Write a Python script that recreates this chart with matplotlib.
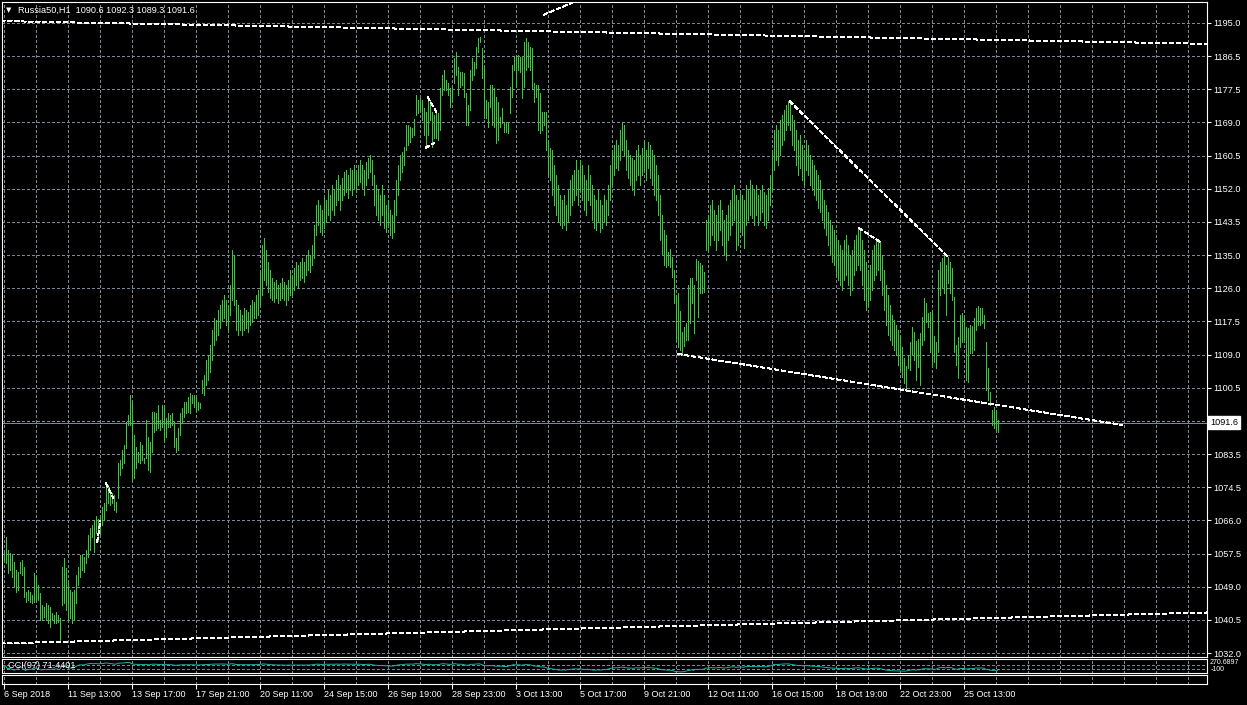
import numpy as np
import pandas as pd
import matplotlib
matplotlib.use("Agg")
import matplotlib.pyplot as plt
from matplotlib.transforms import blended_transform_factory

# ---------------- data ----------------
symbol = "Russia50,H1"
last_ohlc = [1090.6, 1092.3, 1089.3, 1091.6]
last_price = 1091.6
cci_period = 97
cci_last = 71.4401

highs = [
    # 0-9
    1057.9, 1062.0, 1058.7, 1057.9, 1057.4, 1055.5, 1053.5, 1053.0, 1055.5, 1056.1,
    # 10-19
    1054.3, 1047.8, 1048.3, 1047.8, 1047.0, 1052.7, 1051.7, 1049.6, 1047.5, 1044.4,
    # 20-29
    1043.9, 1044.9, 1044.4, 1043.9, 1042.4, 1041.8, 1042.6, 1041.8, 1041.1, 1054.3,
    # 30-39
    1056.6, 1054.0, 1050.1, 1048.3, 1047.8, 1048.3, 1052.2, 1054.3, 1057.4, 1057.4,
    # 40-49
    1056.8, 1058.7, 1062.5, 1064.3, 1065.1, 1066.4, 1067.5, 1066.8, 1067.7, 1069.8,
    # 50-59
    1070.8, 1076.0, 1075.5, 1074.2, 1073.4, 1072.9, 1071.1, 1081.2, 1081.9, 1084.5,
    # 60-69
    1085.8, 1091.8, 1093.6, 1098.8, 1096.7, 1088.4, 1085.3, 1084.0, 1086.6, 1085.8,
    # 70-79
    1082.5, 1092.3, 1087.9, 1086.6, 1094.4, 1094.4, 1094.1, 1096.2, 1092.3, 1096.2,
    # 80-89
    1096.2, 1092.8, 1094.1, 1093.6, 1094.1, 1091.8, 1087.6, 1090.2, 1094.1, 1095.4,
    # 90-99
    1096.9, 1096.9, 1098.2, 1099.3, 1098.8, 1098.8, 1098.0, 1096.9, 1096.7, 1102.6,
    # 100-109
    1103.9, 1107.8, 1109.1, 1111.7, 1115.6, 1118.7, 1118.1, 1120.7, 1122.0, 1123.3,
    # 110-119
    1124.6, 1123.3, 1122.0, 1127.2, 1136.3, 1135.0, 1123.3, 1122.0, 1120.7, 1119.4,
    # 120-129
    1121.3, 1120.7, 1120.2, 1122.0, 1123.3, 1122.8, 1124.6, 1125.9, 1131.1, 1137.6,
    # 130-139
    1139.4, 1136.3, 1133.2, 1131.1, 1129.0, 1128.0, 1128.5, 1127.2, 1127.7, 1129.0,
    # 140-149
    1128.0, 1127.2, 1128.5, 1131.1, 1129.8, 1131.6, 1133.2, 1132.4, 1133.2, 1134.2,
    # 150-159
    1133.2, 1135.0, 1136.3, 1135.0, 1137.6, 1142.7, 1147.9, 1149.2, 1147.9, 1146.6,
    # 160-169
    1149.7, 1149.2, 1151.8, 1150.5, 1153.1, 1151.8, 1154.4, 1155.7, 1153.1, 1155.0,
    # 170-179
    1156.5, 1157.0, 1155.7, 1157.5, 1157.0, 1158.3, 1156.5, 1158.3, 1159.5, 1158.3,
    # 180-189
    1157.0, 1159.0, 1160.1, 1160.8, 1159.5, 1155.7, 1153.1, 1151.8, 1150.5, 1153.1,
    # 190-199
    1150.5, 1147.9, 1149.2, 1146.6, 1145.3, 1149.2, 1154.4, 1158.3, 1160.8, 1161.6,
    # 200-209
    1162.9, 1168.6, 1168.6, 1168.1, 1167.8, 1170.2, 1176.4, 1175.1, 1175.6, 1175.1,
    # 210-219
    1173.0, 1172.0, 1175.6, 1175.1, 1172.0, 1171.2, 1172.5, 1171.7, 1178.2, 1181.5,
    # 220-229
    1182.8, 1180.3, 1179.5, 1178.2, 1178.2, 1185.9, 1187.5, 1183.6, 1182.3, 1182.3,
    # 230-239
    1182.1, 1177.0, 1173.8, 1182.8, 1185.9, 1184.9, 1188.8, 1191.1, 1191.4, 1188.5,
    # 240-249
    1183.6, 1175.1, 1174.6, 1179.0, 1179.0, 1178.2, 1175.9, 1174.6, 1170.7, 1173.0,
    # 250-259
    1169.4, 1169.4, 1169.4, 1178.5, 1184.1, 1186.2, 1186.7, 1186.7, 1186.2, 1186.2,
    # 260-269
    1190.1, 1191.1, 1190.1, 1188.8, 1188.5, 1179.5, 1179.0, 1179.0, 1177.0, 1172.0,
    # 270-279
    1172.0, 1172.0, 1164.7, 1162.7, 1162.1, 1158.3, 1155.7, 1153.1, 1150.5, 1149.2,
    # 280-289
    1150.5, 1147.9, 1151.8, 1154.4, 1155.7, 1157.0, 1159.5, 1157.0, 1159.5, 1158.3,
    # 290-299
    1155.7, 1154.4, 1158.3, 1155.7, 1153.1, 1150.5, 1149.2, 1151.8, 1149.2, 1147.9,
    # 300-309
    1150.5, 1149.2, 1153.1, 1158.3, 1162.1, 1163.5, 1164.7, 1163.5, 1167.3, 1169.1,
    # 310-319
    1168.6, 1164.7, 1162.1, 1160.8, 1160.1, 1159.5, 1162.1, 1163.5, 1160.8, 1162.7,
    # 320-329
    1164.7, 1162.1, 1164.2, 1163.5, 1162.1, 1160.8, 1158.3, 1155.7, 1150.5, 1145.3,
    # 330-339
    1141.4, 1140.2, 1135.8, 1136.5, 1134.4, 1131.1, 1124.6, 1125.1, 1120.5, 1115.1,
    # 340-349
    1116.3, 1117.4, 1127.2, 1129.0, 1129.0, 1127.2, 1133.9, 1133.4, 1132.9, 1132.4,
    # 350-359
    1130.6, 1144.0, 1145.3, 1147.9, 1149.2, 1146.6, 1145.3, 1147.9, 1149.2, 1146.6,
    # 360-369
    1144.0, 1145.3, 1147.9, 1149.2, 1151.8, 1153.1, 1150.5, 1149.2, 1151.8, 1150.5,
    # 370-379
    1149.2, 1153.1, 1151.8, 1154.4, 1153.1, 1151.8, 1153.1, 1150.5, 1151.8, 1153.1,
    # 380-389
    1151.3, 1150.5, 1152.3, 1155.7, 1162.1, 1167.3, 1168.6, 1167.3, 1169.9, 1171.2,
    # 390-399
    1172.5, 1173.8, 1174.8, 1174.6, 1171.2, 1169.9, 1167.3, 1164.7, 1166.0, 1163.5,
    # 400-409
    1162.1, 1164.7, 1163.5, 1160.8, 1159.5, 1158.3, 1157.0, 1155.7, 1154.4, 1151.8,
    # 410-419
    1149.2, 1147.9, 1146.1, 1144.0, 1142.7, 1141.4, 1139.4, 1138.9, 1137.6, 1136.3,
    # 420-429
    1138.9, 1140.2, 1137.6, 1135.0, 1136.3, 1138.9, 1140.2, 1141.9, 1141.4, 1138.9,
    # 430-439
    1136.3, 1133.2, 1131.1, 1132.4, 1136.3, 1137.6, 1139.4, 1138.9, 1138.3, 1135.0,
    # 440-449
    1131.1, 1127.2, 1124.6, 1122.0, 1119.4, 1118.1, 1116.9, 1115.6, 1114.3, 1111.2,
    # 450-459
    1108.3, 1106.3, 1108.8, 1112.5, 1116.3, 1115.1, 1112.7, 1113.2, 1114.8, 1118.9,
    # 460-469
    1123.8, 1122.6, 1120.0, 1120.2, 1120.7, 1114.0, 1112.5, 1131.1, 1133.2, 1134.2,
    # 470-479
    1135.0, 1132.4, 1134.4, 1133.2, 1131.6, 1124.1, 1111.7, 1113.8, 1119.4, 1120.0,
    # 480-489
    1118.7, 1116.3, 1116.1, 1116.9, 1116.6, 1118.7, 1121.3, 1121.8, 1121.3, 1121.3,
    # 490-497
    1119.4, 1112.5, 1105.7, 1099.5, 1094.9, 1095.7, 1094.9, 1092.3,
]

lows = [
    # 0-9
    1055.5, 1055.3, 1052.7, 1053.5, 1051.7, 1049.1, 1047.8, 1048.3, 1052.7, 1052.2,
    # 10-19
    1046.5, 1045.2, 1045.7, 1045.2, 1044.9, 1045.2, 1045.7, 1045.7, 1040.5, 1040.5,
    # 20-29
    1041.3, 1040.5, 1039.8, 1038.7, 1040.5, 1039.8, 1039.8, 1040.0, 1034.8, 1044.4,
    # 30-39
    1044.9, 1043.1, 1040.5, 1041.1, 1039.8, 1040.5, 1044.9, 1049.6, 1051.7, 1053.5,
    # 40-49
    1053.0, 1055.3, 1056.8, 1058.7, 1062.0, 1058.1, 1063.0, 1061.0, 1062.5, 1065.1,
    # 50-59
    1066.4, 1069.0, 1070.8, 1070.3, 1070.8, 1069.0, 1068.5, 1072.1, 1078.0, 1079.9,
    # 60-69
    1081.2, 1085.0, 1091.0, 1091.0, 1076.8, 1077.3, 1079.9, 1081.4, 1081.2, 1081.9,
    # 70-79
    1081.2, 1082.5, 1079.3, 1078.8, 1084.0, 1089.2, 1089.7, 1090.2, 1089.7, 1090.5,
    # 80-89
    1086.6, 1087.9, 1090.5, 1090.5, 1091.0, 1085.3, 1084.0, 1084.5, 1088.4, 1091.8,
    # 90-99
    1093.1, 1094.1, 1094.4, 1094.1, 1096.7, 1095.6, 1094.4, 1094.9, 1095.4, 1099.3,
    # 100-109
    1098.8, 1101.3, 1102.6, 1104.7, 1107.8, 1111.7, 1113.0, 1114.3, 1116.1, 1118.1,
    # 110-119
    1118.7, 1116.9, 1115.6, 1119.4, 1123.3, 1122.0, 1115.6, 1114.3, 1115.6, 1114.3,
    # 120-129
    1115.6, 1116.1, 1115.1, 1116.9, 1117.6, 1118.7, 1118.7, 1119.4, 1122.0, 1124.6,
    # 130-139
    1128.5, 1127.2, 1125.4, 1123.8, 1123.3, 1122.8, 1123.8, 1122.6, 1123.3, 1123.8,
    # 140-149
    1123.3, 1122.0, 1123.3, 1124.6, 1124.1, 1125.9, 1127.2, 1126.4, 1128.5, 1129.0,
    # 150-159
    1128.0, 1129.8, 1131.1, 1130.6, 1132.4, 1134.2, 1140.2, 1142.7, 1140.9, 1140.2,
    # 160-169
    1141.9, 1143.5, 1145.3, 1144.0, 1146.6, 1145.3, 1147.9, 1149.2, 1146.6, 1149.2,
    # 170-179
    1150.5, 1151.3, 1149.7, 1151.8, 1150.5, 1152.3, 1151.3, 1153.1, 1153.9, 1152.3,
    # 180-189
    1150.5, 1153.1, 1155.0, 1156.5, 1153.1, 1147.9, 1145.3, 1144.0, 1142.7, 1145.3,
    # 190-199
    1141.9, 1140.9, 1142.7, 1140.2, 1139.4, 1140.9, 1145.3, 1150.5, 1154.4, 1156.5,
    # 200-209
    1158.3, 1162.1, 1163.5, 1164.2, 1165.5, 1166.0, 1171.2, 1171.7, 1172.5, 1169.9,
    # 210-219
    1166.0, 1162.7, 1166.0, 1169.9, 1162.9, 1165.3, 1165.3, 1164.7, 1167.3, 1176.4,
    # 220-229
    1177.7, 1177.7, 1176.4, 1173.3, 1174.6, 1179.5, 1181.5, 1176.4, 1178.5, 1179.0,
    # 230-239
    1175.9, 1168.6, 1168.6, 1172.5, 1180.3, 1181.5, 1183.4, 1187.5, 1190.1, 1180.8,
    # 240-249
    1170.4, 1170.4, 1168.1, 1173.3, 1168.6, 1168.1, 1164.0, 1164.7, 1168.1, 1169.1,
    # 250-259
    1166.8, 1166.8, 1166.5, 1171.7, 1175.9, 1182.8, 1178.5, 1182.8, 1182.3, 1175.6,
    # 260-269
    1178.5, 1182.8, 1183.6, 1182.8, 1178.2, 1174.6, 1175.9, 1167.3, 1166.5, 1167.3,
    # 270-279
    1168.6, 1162.1, 1155.7, 1154.4, 1150.5, 1147.9, 1145.3, 1143.5, 1142.7, 1141.9,
    # 280-289
    1142.7, 1141.4, 1143.5, 1145.3, 1147.9, 1149.2, 1150.5, 1147.9, 1151.8, 1149.2,
    # 290-299
    1146.6, 1145.3, 1149.2, 1147.9, 1144.0, 1141.9, 1141.4, 1143.5, 1140.9, 1141.9,
    # 300-309
    1143.5, 1142.7, 1145.3, 1149.2, 1153.1, 1155.7, 1157.5, 1157.0, 1159.5, 1162.1,
    # 310-319
    1160.8, 1157.0, 1155.0, 1153.1, 1151.8, 1150.5, 1154.4, 1155.7, 1153.1, 1155.7,
    # 320-329
    1157.0, 1154.4, 1157.5, 1155.0, 1153.1, 1150.5, 1149.2, 1145.3, 1138.9, 1135.0,
    # 330-339
    1132.4, 1131.9, 1132.4, 1131.9, 1129.3, 1122.6, 1113.0, 1111.2, 1110.4, 1109.1,
    # 340-349
    1111.4, 1113.0, 1113.0, 1117.4, 1122.6, 1114.8, 1128.5, 1118.9, 1125.1, 1125.1,
    # 350-359
    1125.4, 1136.3, 1136.3, 1137.6, 1140.2, 1138.9, 1136.3, 1138.9, 1141.4, 1137.6,
    # 360-369
    1135.0, 1133.7, 1138.9, 1140.2, 1142.7, 1144.0, 1136.3, 1137.6, 1141.4, 1140.2,
    # 370-379
    1136.8, 1142.7, 1144.0, 1145.3, 1144.5, 1142.7, 1145.3, 1142.7, 1144.0, 1146.1,
    # 380-389
    1142.7, 1141.9, 1144.0, 1147.9, 1151.8, 1157.0, 1159.5, 1158.3, 1160.8, 1163.5,
    # 390-399
    1164.7, 1167.3, 1168.6, 1167.3, 1163.5, 1162.1, 1158.3, 1155.7, 1157.5, 1154.4,
    # 400-409
    1153.1, 1157.0, 1155.7, 1153.1, 1151.8, 1150.5, 1149.2, 1147.1, 1146.1, 1144.0,
    # 410-419
    1141.9, 1140.2, 1137.6, 1135.0, 1133.2, 1132.4, 1129.8, 1128.5, 1127.2, 1125.9,
    # 420-429
    1128.5, 1129.8, 1127.2, 1124.6, 1125.9, 1129.8, 1131.1, 1132.4, 1131.1, 1127.2,
    # 430-439
    1123.3, 1120.7, 1122.0, 1123.3, 1125.9, 1128.5, 1129.8, 1131.1, 1128.5, 1124.6,
    # 440-449
    1120.7, 1116.9, 1114.3, 1113.0, 1111.7, 1110.4, 1109.1, 1106.5, 1105.2, 1103.4,
    # 450-459
    1101.8, 1100.5, 1105.7, 1105.2, 1109.1, 1107.8, 1102.6, 1106.0, 1101.3, 1111.7,
    # 460-469
    1113.0, 1117.6, 1116.3, 1109.9, 1106.0, 1107.3, 1105.7, 1109.9, 1124.6, 1126.4,
    # 470-479
    1125.1, 1119.4, 1127.7, 1125.1, 1123.3, 1109.9, 1106.5, 1103.1, 1111.2, 1112.5,
    # 480-489
    1113.0, 1102.6, 1102.1, 1109.6, 1109.6, 1110.4, 1115.6, 1116.9, 1116.9, 1117.4,
    # 490-497
    1116.1, 1100.0, 1097.5, 1096.2, 1091.0, 1090.2, 1089.7, 1089.3,
]

time_labels = ["6 Sep 2018", "11 Sep 13:00", "13 Sep 17:00", "17 Sep 21:00",
               "20 Sep 11:00", "24 Sep 15:00", "26 Sep 19:00", "28 Sep 23:00",
               "3 Oct 13:00", "5 Oct 17:00", "9 Oct 21:00", "12 Oct 11:00",
               "16 Oct 15:00", "18 Oct 19:00", "22 Oct 23:00", "25 Oct 13:00"]
bars_per_label = 32

price_labels = ["1195.0", "1186.5", "1177.5", "1169.0", "1160.5", "1152.0",
                "1143.5", "1135.0", "1126.0", "1117.5", "1109.0", "1100.5",
                "", "1083.5", "1074.5", "1066.0", "1057.5", "1049.0",
                "1040.5", "1032.0"]
price_top = 1195.0
price_step = 8.579

# drawn objects: (bar index, price) end points
upper_channel = [(-1.5, 1195.5), (602.0, 1189.6)]
lower_channel = [(-1.5, 1034.5), (602.0, 1042.5)]
top_ray = [(270.0, 1197.1), (290.0, 1201.5)]
resistance_line = [(393.0, 1174.8), (472.5, 1134.4)]
support_line = [(337.0, 1109.4), (559.5, 1091.0)]
short_line = [(427.5, 1142.0), (438.5, 1138.3)]
mark_a = [(46.8, 1060.7), (48.5, 1066.4)]
mark_b = [(51.0, 1076.0), (55.0, 1072.1)]
mark_c = [(212.0, 1175.9), (216.5, 1172.0)]
mark_d = [(211.0, 1162.7), (215.5, 1164.0)]

# ---------------- styling ----------------
plt.rcParams['font.family'] = ['Liberation Sans', 'DejaVu Sans']
BG = 'black'
BAR = '#32CD32'
GRID = '#778899'
FG = 'white'
CCI_COLOR = '#20B2AA'

W, H = 1247, 705
fig = plt.figure(figsize=(W / 100, H / 100), dpi=100, facecolor=BG)


def px_rect(x0, y0, x1, y1):
    return [x0 / W, 1 - y1 / H, (x1 - x0) / W, (y1 - y0) / H]


ax = fig.add_axes(px_rect(2, 2, 1207, 657))
cci_ax = fig.add_axes(px_rect(2, 659, 1207, 673))
bot_ax = fig.add_axes(px_rect(2, 675, 1207, 683.5))

n = min(len(highs), len(lows))
idx = np.arange(n)
hi = np.array(highs[:n])
lo = np.array(lows[:n])

# bar i centred on a pixel column (2 px per bar)
XMIN, XMAX = -0.75, 601.75
grid_dash = (0, (3, 3))
line_dash = (0, (5, 3))

for a in (ax, cci_ax, bot_ax):
    a.set_facecolor(BG)
    a.set_xlim(XMIN, XMAX)
    for s in a.spines.values():
        s.set_color(FG)
        s.set_linewidth(0.8)
    for gx in range(0, 600, 16):
        a.axvline(gx, color=GRID, lw=0.7, linestyle=grid_dash,
                  antialiased=False, zorder=1)

# main pane
ax.set_ylim(1030.98, 1200.43)
ticks = [price_top - price_step * k for k in range(len(price_labels))]
ax.set_yticks(ticks)
ax.set_yticklabels(price_labels)
ax.yaxis.tick_right()
ax.tick_params(axis='y', colors=FG, length=3, width=0.8, pad=1.5,
               labelsize=6.6, direction='out')
ax.tick_params(axis='x', bottom=False, labelbottom=False)
for t in ticks:
    ax.axhline(t, color=GRID, lw=0.7, linestyle=grid_dash,
               antialiased=False, zorder=1)

ax.axhline(last_price, color=GRID, lw=0.7, zorder=2, antialiased=False)

ax.vlines(idx, lo, hi, colors=BAR, linewidth=0.6, antialiased=False, zorder=3)

for seg in (upper_channel, lower_channel, top_ray, resistance_line,
            support_line, short_line, mark_a, mark_b, mark_c, mark_d):
    (x0, y0), (x1, y1) = seg
    ax.plot([x0, x1], [y0, y1], color=FG, lw=0.7, linestyle=line_dash,
            antialiased=False, zorder=4)

trans = blended_transform_factory(ax.transAxes, ax.transData)
ax.text(1.0025, last_price, f"{last_price:.1f}", transform=trans,
        ha='left', va='center', color='black', fontsize=6.6, zorder=6,
        bbox=dict(boxstyle='square,pad=0.22', fc='white', ec='white'),
        clip_on=False)

fig.text(6 / W, 1 - 10 / H, "\u25BC", color=FG, fontsize=5,
         family=['DejaVu Sans'], va='center', ha='left')
fig.text(18 / W, 1 - 10 / H,
         f"{symbol}  " + " ".join(f"{v:.1f}" for v in last_ohlc),
         color=FG, fontsize=6.6, va='center', ha='left')

# CCI pane
tp = pd.Series((hi + lo) / 2.0)
sma = tp.rolling(cci_period, min_periods=2).mean()
mad = tp.rolling(cci_period, min_periods=2).apply(
    lambda v: np.mean(np.abs(v - v.mean())), raw=True)
cci = ((tp - sma) / (0.015 * mad)).replace([np.inf, -np.inf], np.nan).fillna(0)
cci_ax.set_ylim(-300, 400)
cci_ax.set_yticks([])
cci_ax.set_xticks([])
for lvl in (100, -100):
    cci_ax.axhline(lvl, color=GRID, lw=0.7, linestyle=grid_dash,
                   antialiased=False, zorder=1)
cci_ax.plot(idx, cci.clip(-300, 400), color=CCI_COLOR, lw=0.7, zorder=3)
cci_ax.text(6 / 1205, 0.5, f"CCI({cci_period}) {cci_last:.4f}",
            transform=cci_ax.transAxes, color=FG, fontsize=6.6,
            ha='left', va='center', zorder=5)
fig.text(1210 / W, 1 - 662.5 / H, "270.6897", color=FG, fontsize=5,
         va='center', ha='left')
fig.text(1211 / W, 1 - 669.5 / H, "-100", color=FG, fontsize=5,
         va='center', ha='left')

# bottom pane with time axis
bot_ax.set_yticks([])
label_pos = [k * bars_per_label for k in range(len(time_labels))]
bot_ax.set_xticks(label_pos)
bot_ax.set_xticklabels(time_labels, ha='left')
bot_ax.tick_params(axis='x', colors=FG, length=3.5, width=0.8, pad=1.2,
                   labelsize=6.5, direction='out')

fig.savefig("out.png", dpi=100, facecolor=BG)
